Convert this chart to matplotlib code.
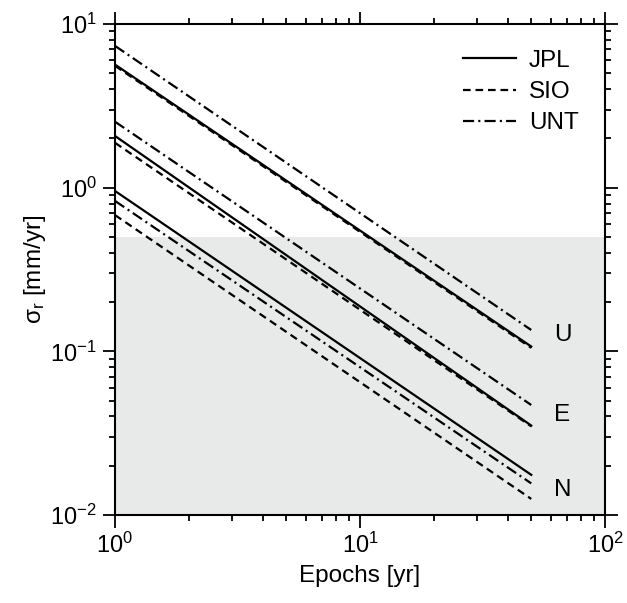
import matplotlib
matplotlib.use('Agg')
import matplotlib.pyplot as plt

plt.rcParams['font.family'] = ['Liberation Sans', 'DejaVu Sans']
plt.rcParams['mathtext.fontset'] = 'custom'
plt.rcParams['mathtext.rm'] = 'Liberation Sans'
plt.rcParams['mathtext.default'] = 'regular'
plt.rcParams['axes.unicode_minus'] = False
plt.rcParams['lines.scale_dashes'] = False

# epochs at which the curves were drawn (straight lines in log-log)
epochs = [1, 50]

# sigma_r [mm/yr] per component and solution
jpl_U = [5.65, 0.107]
sio_U = [5.55, 0.105]
unt_U = [7.35, 0.135]
jpl_E = [2.07, 0.0352]
sio_E = [1.88, 0.0348]
unt_E = [2.53, 0.047]
jpl_N = [0.955, 0.0176]
sio_N = [0.68, 0.01254]
unt_N = [0.83, 0.0156]

components = ['U', 'E', 'N']
comp_label_y = [0.126, 0.0408, 0.0142]
shade_top = 0.5

fig = plt.figure(figsize=(6.27, 6.03), dpi=100)
ax = fig.add_axes([115/627, 1 - 515/603, 490/627, 491/603])

ax.axhspan(0.01, shade_top, color='#e8e9e9', zorder=0, lw=0)

lw = 1.6
sio_dash = (0, (5.5, 3.5))
unt_dash = (0, (8, 3, 1.5, 3))
series = [(jpl_U, sio_U, unt_U), (jpl_E, sio_E, unt_E), (jpl_N, sio_N, unt_N)]
for i, (j, s, u) in enumerate(series):
    ax.plot(epochs, j, color='k', lw=lw, label='JPL' if i == 0 else None)
    ax.plot(epochs, s, color='k', lw=lw, ls=sio_dash, label='SIO' if i == 0 else None)
    ax.plot(epochs, u, color='k', lw=lw, ls=unt_dash, label='UNT' if i == 0 else None)

for c, yv in zip(components, comp_label_y):
    ax.text(67, yv, c, fontsize=17.5, ha='center', va='center')

ax.set_xscale('log')
ax.set_yscale('log')
ax.set_xlim(1, 100)
ax.set_ylim(0.01, 10)

for sp in ax.spines.values():
    sp.set_linewidth(1.5)
ax.tick_params(which='both', direction='out', top=True, right=True,
               width=1.3, labelsize=17)
ax.tick_params(which='major', length=9, pad=4)
ax.tick_params(which='minor', length=4.5)

ax.set_xlabel('Epochs [yr]', fontsize=17.5, labelpad=5)
ax.set_ylabel('σ$_\\mathregular{r}$ [mm/yr]', fontsize=17.5, labelpad=2)

ax.legend(loc='upper left', bbox_to_anchor=(0.691, 0.967), borderaxespad=0,
          frameon=False, fontsize=17.5, handlelength=2.15,
          handletextpad=0.55, labelspacing=0.38)

fig.savefig('out.png', dpi=100)
